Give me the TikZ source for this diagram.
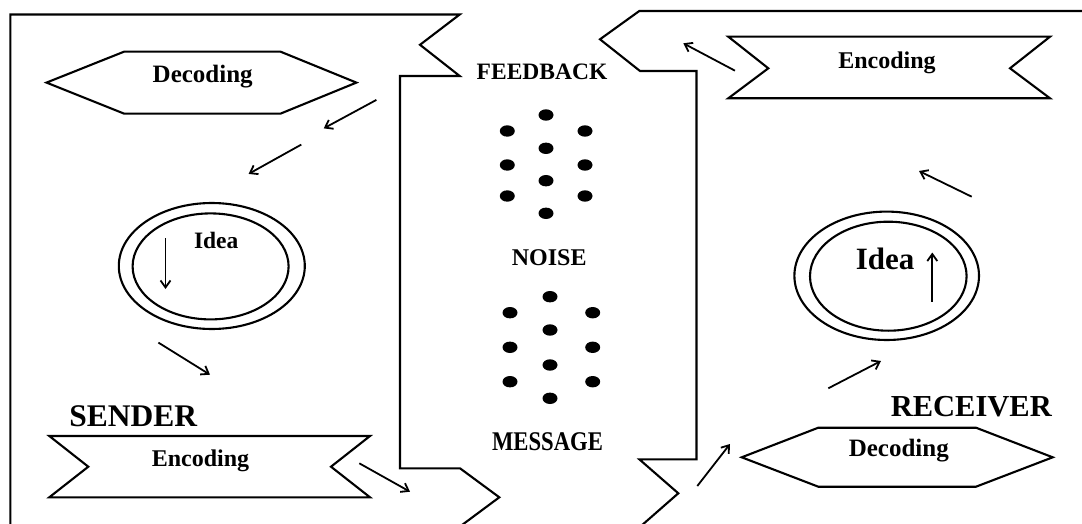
\documentclass[tikz,border=0pt]{standalone}
\usepackage{fontspec}
\usepackage{graphicx}
\setmainfont{Liberation Serif}
\usetikzlibrary{arrows.meta}
\begin{document}
\begin{tikzpicture}[x=1pt,y=-1pt,
  outl/.style={line width=2.1pt, line join=miter, miter limit=10},
  arr/.style={line width=1.8pt, -{Straight Barb[length=7pt,width=10pt,line width=1.8pt]}},
  lbl/.style={anchor=base, inner sep=0pt, font=\bfseries\fontsize{#1}{#1}\selectfont},
  dotfill/.style={fill=black}]
\useasboundingbox (0,0) rectangle (1082,524);
\clip (0,0) rectangle (1082,524);

% ---- Sender outline ----
\draw[outl] (10.3,530) -- (10.3,14.5) -- (459.7,14.5) -- (420,44.8) -- (459.7,76)
  -- (400,76) -- (400,468.3) -- (460,468.3) -- (499.3,497.3) -- (460,526.5);

% ---- Receiver outline ----
\draw[outl] (1090,11) -- (639.3,11) -- (600,39.3) -- (640,71) -- (696.5,71)
  -- (696.5,459.3) -- (639.3,459.3) -- (678.3,493.3) -- (639.3,527.5);

% ---- Left Decoding hexagon ----
\draw[outl] (46.5,82.6) -- (124,51.7) -- (280.6,51.7) -- (356.4,82.6)
  -- (280.6,113.6) -- (124,113.6) -- cycle;
\node[lbl=25] (decL) at (202.7,82.6) {Decoding};

% ---- Left arrows ----
\coordinate (a1s) at (376.4,99.9);  \coordinate (a1e) at (323.7,128.4);
\coordinate (a2s) at (301.3,144.6); \coordinate (a2e) at (248.6,173.9);
\draw[arr] (a1s) -- (a1e);
\draw[arr] (a2s) -- (a2e);

% ---- Left Idea ----
\draw[outl] (211.8,266) ellipse [x radius=93pt, y radius=63pt];
\draw[outl] (210.6,266.4) ellipse [x radius=78pt, y radius=53pt];
\node[lbl=23.5] (ideaL) at (216.2,248.3) {Idea};
\coordinate (dls) at (165.5,238); \coordinate (dle) at (165.5,289);
\draw[arr] (dls) -- (dle);

\coordinate (a3s) at (158.4,342.6); \coordinate (a3e) at (210,374.7);
\draw[arr] (a3s) -- (a3e);

% ---- SENDER ----
\node[lbl=31.5] (sender) at (133.3,426.5) {SENDER};

% ---- Left Encoding ribbon ----
\draw[outl] (49.3,436) -- (370,436) -- (331,466.7) -- (370,497.3)
  -- (49.3,497.3) -- (88.3,466.7) -- cycle;
\node[lbl=24] (encL) at (200.5,466.7) {Encoding};
\coordinate (a4s) at (359.3,463.3); \coordinate (a4e) at (410,491.7);
\draw[arr] (a4s) -- (a4e);

% ---- Middle ----
\node[lbl=23.5] (fb) at (542,79.3) {FEEDBACK};
\node[lbl=24] (noise) at (549.2,265) {NOISE};
\node[lbl=27] (msg) at (547.5,450) {\scalebox{0.84}[1]{MESSAGE}};

\foreach \y in {115,148.3,180.7,213.3}
  \fill[dotfill] (546,\y) ellipse [x radius=7.5pt, y radius=5.7pt];
\foreach \y in {131,165,196}{
  \fill[dotfill] (507.3,\y) ellipse [x radius=7.5pt, y radius=5.7pt];
  \fill[dotfill] (585,\y) ellipse [x radius=7.5pt, y radius=5.7pt];}
\foreach \y in {296.7,330,365,398.3}
  \fill[dotfill] (550,\y) ellipse [x radius=7.5pt, y radius=5.7pt];
\foreach \y in {312.7,347.3,381.7}{
  \fill[dotfill] (510,\y) ellipse [x radius=7.5pt, y radius=5.7pt];
  \fill[dotfill] (592.7,\y) ellipse [x radius=7.5pt, y radius=5.7pt];}

% ---- Right Encoding ribbon ----
\draw[outl] (728.3,36.7) -- (1050,36.7) -- (1010,68.3) -- (1050,98.3)
  -- (728.3,98.3) -- (768.3,68.3) -- cycle;
\node[lbl=24] (encR) at (887,68.3) {Encoding};
\coordinate (b1s) at (735,70.7); \coordinate (b1e) at (683.3,43.3);
\draw[arr] (b1s) -- (b1e);
\coordinate (b2s) at (971.7,196.7); \coordinate (b2e) at (919,171);
\draw[arr] (b2s) -- (b2e);

% ---- Right Idea ----
\draw[outl] (886.7,275.8) ellipse [x radius=92.3pt, y radius=64.2pt];
\draw[outl] (888.3,276.2) ellipse [x radius=78.3pt, y radius=54.5pt];
\node[lbl=31] (ideaR) at (885.2,269.3) {Idea};
\coordinate (urs) at (932.3,301.7); \coordinate (ure) at (932.3,252.5);
\draw[arr] (urs) -- (ure);

\coordinate (b3s) at (828.3,388.3); \coordinate (b3e) at (881,361);
\draw[arr] (b3s) -- (b3e);

% ---- RECEIVER ----
\node[lbl=30.5] (receiver) at (971.3,416.7) {RECEIVER};

% ---- Right Decoding hexagon ----
\draw[outl] (741.7,457.3) -- (818.3,427.7) -- (976,427.7) -- (1052.7,457.3)
  -- (976,486.7) -- (818.3,486.7) -- cycle;
\node[lbl=25] (decR) at (898.8,456) {Decoding};
\coordinate (b4s) at (697.3,486); \coordinate (b4e) at (730,444);
\draw[arr] (b4s) -- (b4e);
\end{tikzpicture}
\end{document}
